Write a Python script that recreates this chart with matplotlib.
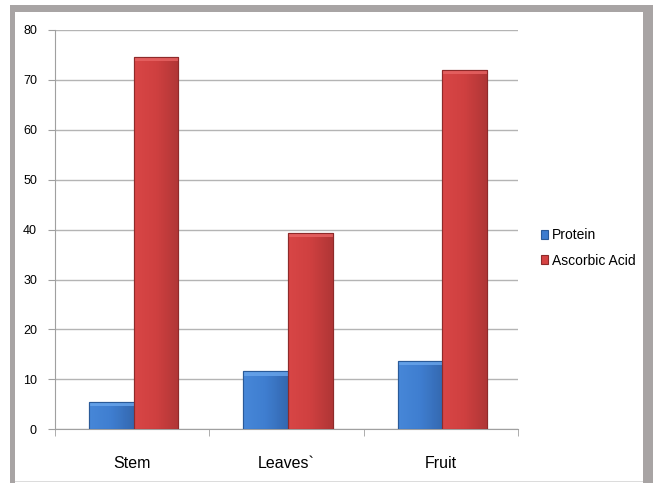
import matplotlib
matplotlib.use("Agg")
import matplotlib.pyplot as plt
import numpy as np
from matplotlib.patches import Rectangle
from matplotlib.colors import LinearSegmentedColormap

categories = ["Stem", "Leaves`", "Fruit"]
series_names = ["Protein", "Ascorbic Acid"]
protein = [5.5, 11.6, 13.7]
ascorbic = [74.6, 39.4, 72.0]
yticks = [0, 10, 20, 30, 40, 50, 60, 70, 80]

plt.rcParams['font.family'] = ['Liberation Sans', 'DejaVu Sans']

W, H = 653, 483
fig = plt.figure(figsize=(W / 100, H / 100), dpi=100)
fig.patch.set_facecolor("white")

# gray frame
gray = "#a8a4a4"
def frect(x0, y0, x1, y1, color):
    fig.patches.append(Rectangle((x0 / W, 1 - y1 / H), (x1 - x0) / W, (y1 - y0) / H,
                                 transform=fig.transFigure, facecolor=color,
                                 edgecolor="none", zorder=0))
frect(10, 5, 653, 12, gray)
frect(10, 5, 15, 483, gray)
frect(643, 5, 653, 483, gray)
frect(15, 481, 643, 482, "#dcdcdc")

ax = fig.add_axes([55 / W, 1 - 429.3 / H, (518 - 55) / W, (429.3 - 30) / H])
ax.set_facecolor("none")

x = np.arange(len(categories))
w = 0.29
b1 = ax.bar(x - w / 2 + 0.01, protein, w, color="#3d7ccf", edgecolor="#2a5a98", linewidth=0.8,
            label=series_names[0], zorder=3)
b2 = ax.bar(x + w / 2 + 0.01, ascorbic, w, color="#d64343", edgecolor="#8e2a2a", linewidth=0.8,
            label=series_names[1], zorder=3)

cmap_b = LinearSegmentedColormap.from_list("b", ["#4787d8", "#3f7ed0", "#3468b0"])
cmap_r = LinearSegmentedColormap.from_list("r", ["#d84646", "#cf4040", "#b03636"])
grad = np.linspace(0, 1, 64).reshape(1, -1)
for bars, cm, top in ((b1, cmap_b, "#6aa6ec"), (b2, cmap_r, "#e86565")):
    for p in bars:
        x0, y0 = p.get_x(), p.get_y()
        bw, bh = p.get_width(), p.get_height()
        im = ax.imshow(grad, cmap=cm, aspect="auto", extent=(x0, x0 + bw, y0, y0 + bh),
                       zorder=3.5, interpolation="bicubic")
        im.set_clip_path(p)
        # top bevel
        ax.add_patch(Rectangle((x0, y0 + bh - 0.9), bw, 0.9, facecolor=top,
                               edgecolor="none", zorder=3.6, alpha=0.8))
        ax.add_patch(Rectangle((x0, y0), bw, bh, facecolor="none",
                               edgecolor=p.get_edgecolor(), linewidth=0.8, zorder=3.7))

ax.set_xlim(-0.5, 2.5)
ax.set_ylim(0, 80)
ax.set_yticks(yticks)
ax.set_yticklabels([str(v) for v in yticks], fontsize=9)
ax.yaxis.grid(True, color="#b4b4b4", linewidth=1.0, zorder=0)
ax.set_axisbelow(True)

ax.set_xticks(x)
ax.set_xticklabels(categories, fontsize=11.5)
ax.tick_params(axis="x", length=0, pad=19)
ax.set_xticks([-0.5, 0.5, 1.5, 2.5], minor=True)
ax.tick_params(axis="x", which="minor", length=5, color="#a0a0a0", direction="out")
ax.tick_params(axis="y", length=5, color="#a0a0a0", direction="out", pad=8)

for s in ("top", "right"):
    ax.spines[s].set_visible(False)
ax.spines["left"].set_color("#a0a0a0")
ax.spines["bottom"].set_color("#a0a0a0")

leg = ax.legend(handles=[b1, b2], labels=series_names, loc="center left",
                bbox_to_anchor=(535 / W, 1 - 248 / H), bbox_transform=fig.transFigure,
                frameon=False, fontsize=10, handlelength=0.55, handleheight=0.55,
                handletextpad=0.25, labelspacing=0.8, borderaxespad=0)

fig.savefig("out.png", dpi=100)
